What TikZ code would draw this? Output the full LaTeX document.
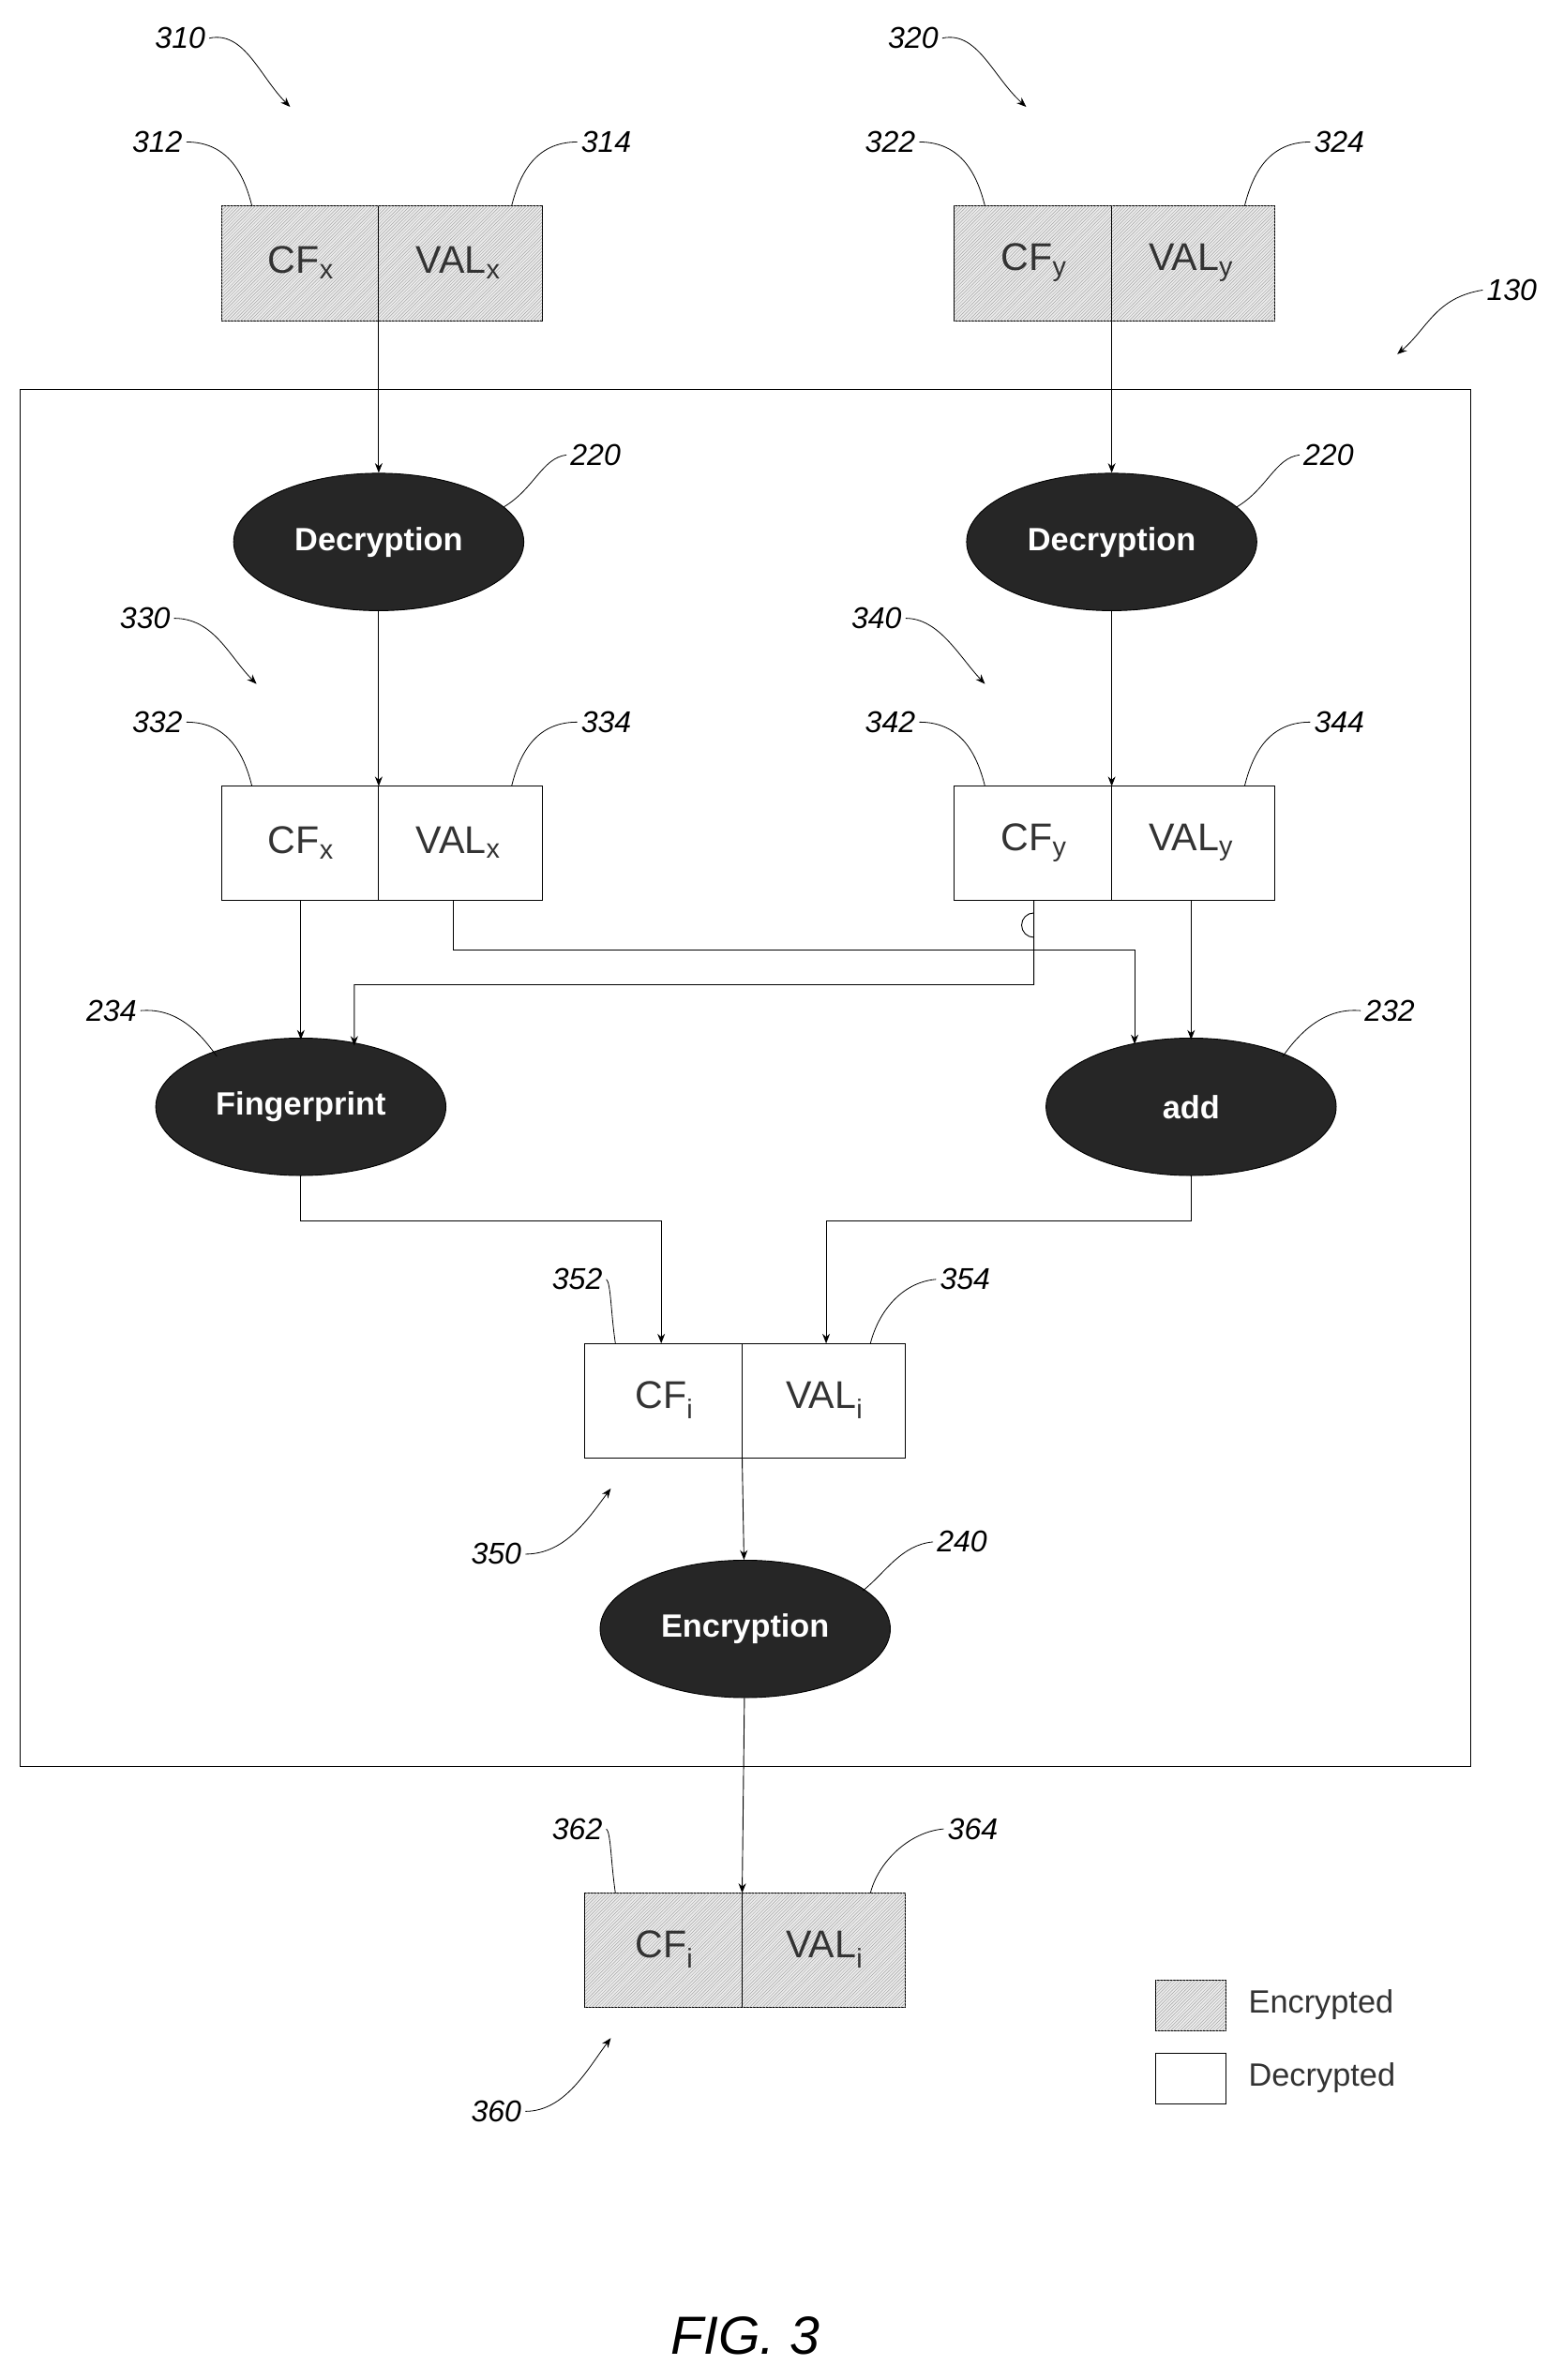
\documentclass[tikz,border=0pt]{standalone}
\usepackage{fontspec}
\setmainfont{Liberation Sans}
\usetikzlibrary{patterns,arrows.meta,shapes.geometric}
\begin{document}
\begin{tikzpicture}[x=0.05cm,y=-0.05cm,
  line width=0.8pt,
  enc/.style={draw, fill=gray!15, postaction={pattern=north east lines, pattern color=gray!70}},
  dec/.style={draw, fill=white},
  bt/.style={font=\fontsize{36}{40}\selectfont, text=black!80},
  op/.style={draw, ellipse, fill=black!85, minimum width=190*0.05cm, minimum height=90*0.05cm, inner sep=0pt, font=\fontsize{30}{34}\selectfont\bfseries, text=white},
  lab/.style={font=\fontsize{28}{32}\selectfont\itshape},
  arr/.style={-{Stealth[length=9pt,width=7pt]}},
  lead/.style={line width=0.7pt}]
\useasboundingbox (0,0) rectangle (1024,1559);

% big box
\draw (13,255) rectangle (963,1157);

% record boxes
\newcommand{\rec}[4]{% style, left x, top y, name
  \draw[#1] (#2,#3) rectangle ++(210,75);
  \draw (#2+103,#3) -- (#2+103,#3+75);
  \coordinate (#4t) at (#2+103,#3);
  \coordinate (#4b) at (#2+103,#3+75);
}
\rec{enc}{145}{135}{r310}
\rec{enc}{625}{135}{r320}
\rec{dec}{145}{515}{r330}
\rec{dec}{625}{515}{r340}
\rec{dec}{383}{880}{r350}
\rec{enc}{383}{1240}{r360}
\node[bt] (t1) at (197,172) {CF$_{\mathrm{x}}$};
\node[bt] (t2) at (300,172) {VAL$_{\mathrm{x}}$};
\node[bt] (t3) at (677,172) {CF$_{\mathrm{y}}$};
\node[bt] (t4) at (780,172) {VAL$_{\mathrm{y}}$};
\node[bt] (t5) at (197,552) {CF$_{\mathrm{x}}$};
\node[bt] (t6) at (300,552) {VAL$_{\mathrm{x}}$};
\node[bt] (t7) at (677,552) {CF$_{\mathrm{y}}$};
\node[bt] (t8) at (780,552) {VAL$_{\mathrm{y}}$};
\node[bt] (t9) at (435,917) {CF$_{\mathrm{i}}$};
\node[bt] (t10) at (540,917) {VAL$_{\mathrm{i}}$};
\node[bt] (t11) at (435,1277) {CF$_{\mathrm{i}}$};
\node[bt] (t12) at (540,1277) {VAL$_{\mathrm{i}}$};

% operations
\node[op] (dx) at (248,355) {Decryption};
\node[op] (dy) at (728,355) {Decryption};
\node[op] (fp) at (197,725) {Fingerprint};
\node[op] (ad) at (780,725) {add};
\node[op] (en) at (488,1067) {Encryption};

% connectors
\draw[arr] (r310b) -- (dx);
\draw[arr] (r320b) -- (dy);
\draw[arr] (dx) -- (r330t);
\draw[arr] (dy) -- (r340t);
\draw[arr] (197,590) -- (197,681);
\draw[arr] (780,590) -- (780,681);
\draw[arr] (297,590) -- (297,622) -- (743,622) -- (743,684);
\draw[arr] (677,590) -- (677,614) arc[start angle=-90,end angle=90,radius=-8] -- (677,645) -- (232,645) -- (232,685);
\draw[arr] (197,770) -- (197,800) -- (433,800) -- (433,880);
\draw[arr] (780,770) -- (780,800) -- (541,800) -- (541,880);
\draw[arr] (r350b) -- (en);
\draw[arr] (en) -- (r360t);

% labels
\node[lab] (l310) at (118,25) {310};
\draw[lead,arr] (l310.east) .. controls (160,20) and (170,50) .. (190,70);
\node[lab] (l320) at (598,25) {320};
\draw[lead,arr] (l320.east) .. controls (640,20) and (650,50) .. (672,70);
\node[lab] (l130) at (990,190) {130};
\draw[lead,arr] (l130.west) .. controls (940,195) and (935,215) .. (915,232);
\node[lab] (l330) at (95,405) {330};
\draw[lead,arr] (l330.east) .. controls (140,405) and (150,430) .. (168,448);
\node[lab] (l340) at (574,405) {340};
\draw[lead,arr] (l340.east) .. controls (615,405) and (628,430) .. (645,448);
\node[lab] (l350) at (325,1018) {350};
\draw[lead,arr] (l350.east) .. controls (370,1018) and (385,995) .. (400,975);
\node[lab] (l360) at (325,1383) {360};
\draw[lead,arr] (l360.east) .. controls (370,1383) and (385,1355) .. (400,1335);

\node[lab] (l312) at (103,93) {312};
\draw[lead] (l312.east) .. controls (150,93) and (160,115) .. (165,135);
\node[lab] (l314) at (397,93) {314};
\draw[lead] (l314.west) .. controls (350,93) and (340,115) .. (335,135);
\node[lab] (l322) at (583,93) {322};
\draw[lead] (l322.east) .. controls (630,93) and (640,115) .. (645,135);
\node[lab] (l324) at (877,93) {324};
\draw[lead] (l324.west) .. controls (830,93) and (820,115) .. (815,135);
\node[lab] (l220a) at (390,298) {220};
\draw[lead] (l220a.west) .. controls (355,300) and (350,320) .. (330,332);
\node[lab] (l220b) at (870,298) {220};
\draw[lead] (l220b.west) .. controls (835,300) and (830,320) .. (810,332);
\node[lab] (l332) at (103,473) {332};
\draw[lead] (l332.east) .. controls (150,473) and (160,495) .. (165,515);
\node[lab] (l334) at (397,473) {334};
\draw[lead] (l334.west) .. controls (350,473) and (340,495) .. (335,515);
\node[lab] (l342) at (583,473) {342};
\draw[lead] (l342.east) .. controls (630,473) and (640,495) .. (645,515);
\node[lab] (l344) at (877,473) {344};
\draw[lead] (l344.west) .. controls (830,473) and (820,495) .. (815,515);
\node[lab] (l234) at (73,662) {234};
\draw[lead] (l234.east) .. controls (115,660) and (130,675) .. (142,692);
\node[lab] (l232) at (910,662) {232};
\draw[lead] (l232.west) .. controls (868,660) and (852,675) .. (840,692);
\node[lab] (l352) at (378,838) {352};
\draw[lead] (l352.east) .. controls (400,840) and (400,860) .. (403,880);
\node[lab] (l354) at (632,838) {354};
\draw[lead] (l354.west) .. controls (590,840) and (575,860) .. (570,880);
\node[lab] (l240) at (630,1010) {240};
\draw[lead] (l240.west) .. controls (590,1012) and (580,1030) .. (565,1042);
\node[lab] (l362) at (378,1198) {362};
\draw[lead] (l362.east) .. controls (400,1200) and (400,1220) .. (403,1240);
\node[lab] (l364) at (637,1198) {364};
\draw[lead] (l364.west) .. controls (595,1200) and (575,1220) .. (570,1240);

% legend
\draw[enc] (757,1297) rectangle (803,1330);
\draw[dec] (757,1345) rectangle (803,1378);
\node[anchor=west, font=\fontsize{30}{34}\selectfont, text=black!80] (le) at (815,1313) {Encrypted};
\node[anchor=west, font=\fontsize{30}{34}\selectfont, text=black!80] (ld) at (815,1361) {Decrypted};

\node[font=\fontsize{50}{56}\selectfont\itshape] (fig) at (488,1530) {FIG. 3};
\end{tikzpicture}
\end{document}
